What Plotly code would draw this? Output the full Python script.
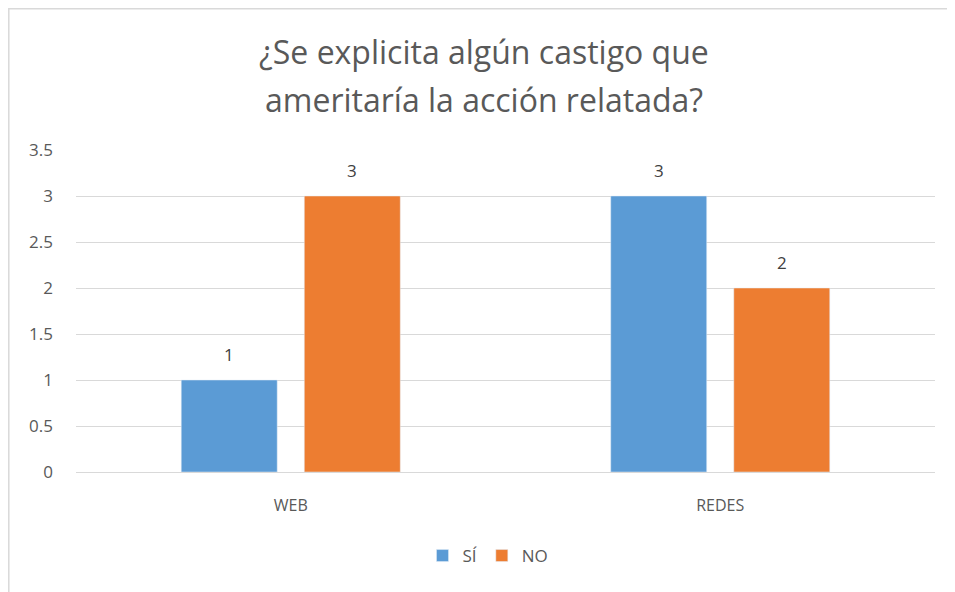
import plotly.graph_objects as go

categories = ["WEB", "REDES"]
si_values = [1, 3]
no_values = [3, 2]
title_lines = ["¿Se explicita algún castigo que", "ameritaría la acción relatada?"]
y_ticks = [0, 0.5, 1, 1.5, 2, 2.5, 3, 3.5]

SI_COLOR = "#5B9BD5"
NO_COLOR = "#ED7D31"
TEXT_COLOR = "#595959"
FONT = "Open Sans"

# page body has an 8px margin, so the figure is placed at (8, 8)
OFF = 8
L, R, T, B = 76 - OFF, 20, 150 - OFF, 120
W, H = 955 - OFF, 592 - OFF
PW = W - L - R
PH = H - T - B


def px_to_paper(xp, yp):
    return (xp - OFF - L) / PW, (H - B - (yp - OFF)) / PH


BARGAP, GROUPGAP = 0.427, 0.22
BAR_SHIFT = (1 - BARGAP) / 4  # centre of each bar slot, in category units

fig = go.Figure()
for name, vals, color, shift in [("SÍ", si_values, SI_COLOR, -BAR_SHIFT),
                                 ("NO", no_values, NO_COLOR, BAR_SHIFT)]:
    fig.add_trace(go.Bar(x=categories, y=vals, name=name, marker=dict(color=color)))
    for i, v in enumerate(vals):
        fig.add_annotation(x=i + shift, y=v, text=str(v), showarrow=False,
                           yanchor="bottom", yshift=12,
                           font=dict(family=FONT, size=17, color="#404040"))

# title as two annotations so the line spacing can follow the original
for i, line in enumerate(title_lines):
    tx, ty = px_to_paper(484, 51 + 48 * i)
    fig.add_annotation(
        text=line, xref="paper", yref="paper", x=tx, y=ty,
        xanchor="center", yanchor="middle", showarrow=False,
        font=dict(family=FONT, size=32, color=TEXT_COLOR),
    )

# outer chart border
bx0, by1 = px_to_paper(8.8, 8.8)
fig.add_shape(type="rect", xref="paper", yref="paper",
              x0=bx0, x1=1.1, y0=-0.6, y1=by1,
              line=dict(color="#D9D9D9", width=1.5), layer="below")

lx, ly = px_to_paper(488, 556)
fig.update_layout(
    width=W, height=H,
    margin=dict(l=L, r=R, t=T, b=B),
    paper_bgcolor="white", plot_bgcolor="white",
    font=dict(family=FONT, size=16, color=TEXT_COLOR),
    barmode="group", bargap=BARGAP, bargroupgap=GROUPGAP,
    showlegend=True,
    legend=dict(orientation="h", x=lx, y=ly,
                xanchor="center", yanchor="middle",
                font=dict(size=17, color=TEXT_COLOR), itemwidth=30),
    xaxis=dict(showgrid=False, showline=False, ticks="", ticklabelstandoff=22,
               tickfont=dict(size=16, color=TEXT_COLOR)),
    yaxis=dict(range=[0, 3.5], tickvals=y_ticks, showgrid=True,
               gridcolor="#D9D9D9", gridwidth=1, zeroline=True,
               zerolinecolor="#D9D9D9", zerolinewidth=1, showline=False,
               ticklabelstandoff=22, tickfont=dict(size=17, color=TEXT_COLOR)),
)

fig.write_html("out.html")
